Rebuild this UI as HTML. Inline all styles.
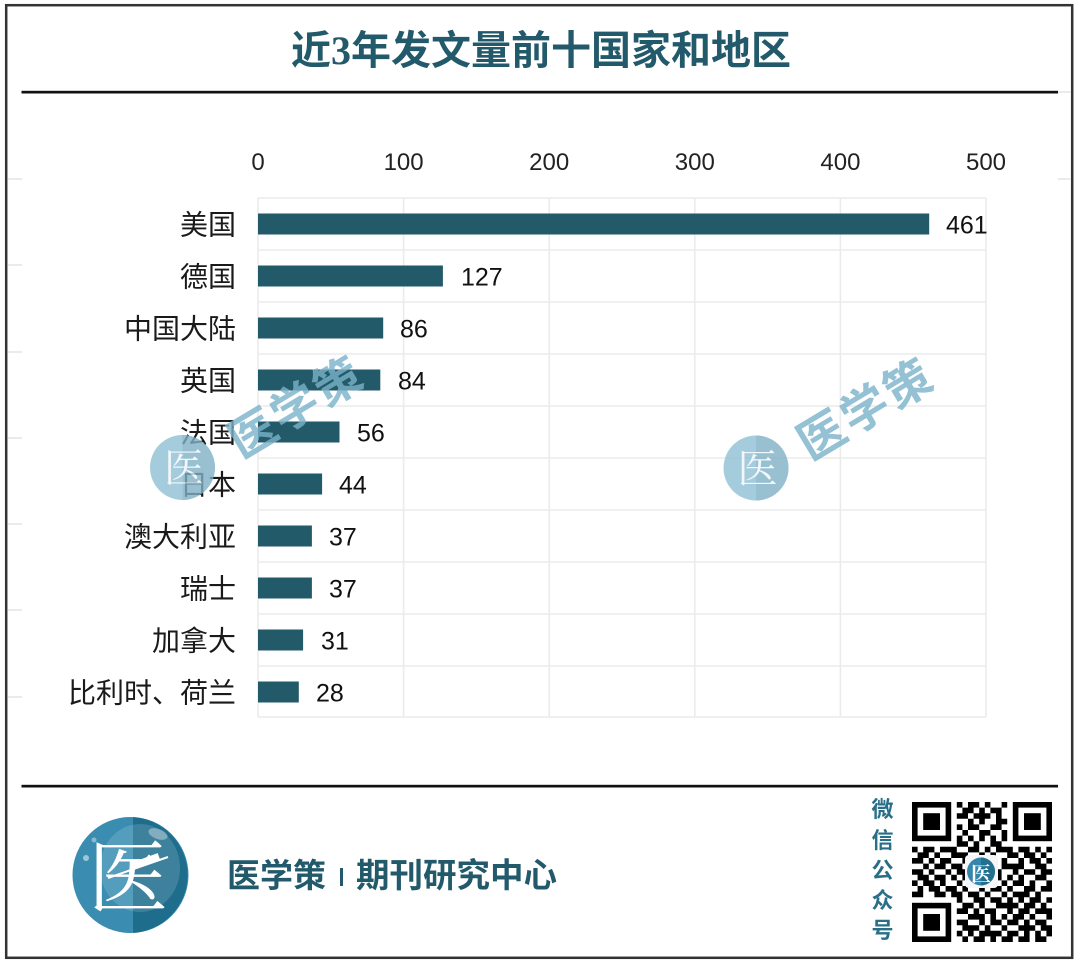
<!DOCTYPE html>
<html><head><meta charset="utf-8"><style>
html,body{margin:0;padding:0;background:#fff;}
svg{display:block;}
</style></head><body>
<svg width="1080" height="965" viewBox="0 0 1080 965" xmlns="http://www.w3.org/2000/svg">
<rect x="0" y="0" width="1080" height="965" fill="#fff"/>
<!-- outer border -->
<rect x="6.2" y="5.2" width="1066" height="952.6" fill="none" stroke="#333" stroke-width="2.5"/>
<!-- faint edge ticks -->
<g stroke="#e4e4e4" stroke-width="1.5">
<line x1="8" y1="179" x2="22" y2="179"/><line x1="8" y1="265" x2="22" y2="265"/>
<line x1="8" y1="352" x2="22" y2="352"/><line x1="8" y1="438" x2="22" y2="438"/>
<line x1="8" y1="524" x2="22" y2="524"/><line x1="8" y1="610" x2="22" y2="610"/>
<line x1="8" y1="697" x2="22" y2="697"/>
<line x1="1058" y1="92" x2="1071" y2="92"/><line x1="1058" y1="179" x2="1071" y2="179"/>
</g>
<!-- title -->
<text x="541" y="64" text-anchor="middle" font-family="'Liberation Sans','Noto Sans CJK SC',sans-serif" font-weight="bold" font-size="40" fill="#235a6b">近<tspan font-family="'Liberation Serif',serif">3</tspan>年发文量前十国家和地区</text>
<rect x="21.5" y="90.8" width="1036.5" height="2.7" fill="#111"/>

<!-- grid -->
<g stroke="#ebebeb" stroke-width="1.6">
<line x1="258" y1="198" x2="986" y2="198"/>
<line x1="258" y1="250" x2="986" y2="250"/>
<line x1="258" y1="302" x2="986" y2="302"/>
<line x1="258" y1="354" x2="986" y2="354"/>
<line x1="258" y1="406" x2="986" y2="406"/>
<line x1="258" y1="458" x2="986" y2="458"/>
<line x1="258" y1="510" x2="986" y2="510"/>
<line x1="258" y1="562" x2="986" y2="562"/>
<line x1="258" y1="614" x2="986" y2="614"/>
<line x1="258" y1="666" x2="986" y2="666"/>
<line x1="258" y1="717" x2="986" y2="717"/>
<line x1="258" y1="198" x2="258" y2="717"/>
<line x1="403.6" y1="198" x2="403.6" y2="717"/>
<line x1="549.2" y1="198" x2="549.2" y2="717"/>
<line x1="694.8" y1="198" x2="694.8" y2="717"/>
<line x1="840.4" y1="198" x2="840.4" y2="717"/>
<line x1="986" y1="198" x2="986" y2="717"/>
</g>

<!-- axis labels -->
<g font-family="'Liberation Sans',sans-serif" font-size="24" fill="#222" text-anchor="middle">
<text x="258" y="170">0</text>
<text x="403.6" y="170">100</text>
<text x="549.2" y="170">200</text>
<text x="694.8" y="170">300</text>
<text x="840.4" y="170">400</text>
<text x="986" y="170">500</text>
</g>

<!-- bars -->
<g fill="#235a69">
<rect x="258" y="213.5" width="671.2" height="21"/>
<rect x="258" y="265.5" width="184.9" height="21"/>
<rect x="258" y="317.5" width="125.2" height="21"/>
<rect x="258" y="369.5" width="122.3" height="21"/>
<rect x="258" y="421.5" width="81.5" height="21"/>
<rect x="258" y="473.5" width="64.1" height="21"/>
<rect x="258" y="525.5" width="53.9" height="21"/>
<rect x="258" y="577.5" width="53.9" height="21"/>
<rect x="258" y="629.5" width="45.1" height="21"/>
<rect x="258" y="681.5" width="40.8" height="21"/>
</g>

<!-- category labels -->
<g font-family="'Liberation Sans','Noto Sans CJK SC',sans-serif" font-size="28" fill="#1a1a1a" text-anchor="end">
<text x="236" y="234.5">美国</text>
<text x="236" y="286.5">德国</text>
<text x="236" y="338.5">中国大陆</text>
<text x="236" y="390.5">英国</text>
<text x="236" y="442.5">法国</text>
<text x="236" y="494.5">日本</text>
<text x="236" y="546.5">澳大利亚</text>
<text x="236" y="598.5">瑞士</text>
<text x="236" y="650.5">加拿大</text>
<text x="236" y="702.5">比利时、荷兰</text>
</g>

<!-- value labels -->
<g font-family="'Liberation Sans',sans-serif" font-size="25" fill="#111">
<text x="946" y="233.5">461</text>
<text x="461" y="285.5">127</text>
<text x="400" y="337.5">86</text>
<text x="398" y="389.5">84</text>
<text x="357" y="441.5">56</text>
<text x="339" y="493.5">44</text>
<text x="329" y="545.5">37</text>
<text x="329" y="597.5">37</text>
<text x="321" y="649.5">31</text>
<text x="316" y="701.5">28</text>
</g>

<!-- watermarks -->
<g opacity="0.8">
  <circle cx="182.5" cy="467.5" r="32.5" fill="#8fc0d4"/>
  <path d="M182.5 435 A32.5 32.5 0 0 1 182.5 500 Z" fill="#7fb1c6"/>
  <text x="184" y="482" text-anchor="middle" font-family="'Noto Serif CJK SC',serif" font-size="40" fill="#eef6fa">医</text>
  <g font-family="'Liberation Sans','Noto Sans CJK SC',sans-serif" font-weight="bold" font-size="47" fill="#7ab3ca" text-anchor="middle">
    <text x="252" y="450" transform="rotate(-31 252 432)">医</text>
    <text x="294" y="424" transform="rotate(-31 294 406)">学</text>
    <text x="337" y="399" transform="rotate(-31 337 381)">策</text>
  </g>
  <circle cx="756" cy="468" r="32.5" fill="#8fc0d4"/>
  <path d="M756 435.5 A32.5 32.5 0 0 1 756 500.5 Z" fill="#7fb1c6"/>
  <text x="757.5" y="482.5" text-anchor="middle" font-family="'Noto Serif CJK SC',serif" font-size="40" fill="#eef6fa">医</text>
  <g font-family="'Liberation Sans','Noto Sans CJK SC',sans-serif" font-weight="bold" font-size="47" fill="#7ab3ca" text-anchor="middle">
    <text x="821" y="452" transform="rotate(-31 821 434)">医</text>
    <text x="864" y="426" transform="rotate(-31 864 408)">学</text>
    <text x="907" y="401" transform="rotate(-31 907 383)">策</text>
  </g>
</g>

<!-- footer -->
<rect x="21.5" y="784.8" width="1036.5" height="2.7" fill="#111"/>
<!-- logo -->
<circle cx="130.5" cy="875" r="58" fill="#3a8db1"/>
<path d="M133 817.1 A58 58 0 0 1 133 932.9 Z" fill="#1f6d8c"/>
<ellipse cx="140" cy="868" rx="40" ry="44" fill="#ffffff" opacity="0.14"/>
<ellipse cx="158" cy="834" rx="10" ry="5" fill="#ffffff" opacity="0.35" transform="rotate(20 158 834)"/>
<circle cx="86" cy="858" r="3" fill="#ffffff" opacity="0.5"/>
<circle cx="94" cy="840" r="2.5" fill="#ffffff" opacity="0.4"/>
<text x="128" y="906" text-anchor="middle" font-family="'Noto Serif CJK SC',serif" font-size="80" fill="#ffffff">医</text>
<line x1="108" y1="878" x2="168" y2="857" stroke="#ffffff" stroke-width="2"/>
<rect x="132" y="858" width="28" height="7" fill="#ffffff" transform="rotate(-20 145 862)"/>

<text x="227" y="887" font-family="'Liberation Sans','Noto Sans CJK SC',sans-serif" font-weight="bold" font-size="33" fill="#235a6b">医学策</text>
<rect x="340" y="868" width="3" height="18" fill="#235a6b"/>
<text x="356" y="887" font-family="'Liberation Sans','Noto Sans CJK SC',sans-serif" font-weight="bold" font-size="33.5" fill="#235a6b">期刊研究中心</text>

<!-- 微信公众号 -->
<g font-family="'Liberation Sans','Noto Sans CJK SC',sans-serif" font-weight="bold" font-size="22" fill="#2a6f88" text-anchor="middle">
<text x="882.5" y="817">微</text>
<text x="882.5" y="848">信</text>
<text x="882.5" y="878">公</text>
<text x="882.5" y="908">众</text>
<text x="882.5" y="938">号</text>
</g>

<!-- QR code -->
<g transform="translate(912,802) scale(5.6)">
<rect x="0" y="0" width="7" height="7" fill="#000"/><rect x="1" y="1" width="5" height="5" fill="#fff"/><rect x="2" y="2" width="3" height="3" fill="#000"/>
<rect x="18" y="0" width="7" height="7" fill="#000"/><rect x="19" y="1" width="5" height="5" fill="#fff"/><rect x="20" y="2" width="3" height="3" fill="#000"/>
<rect x="0" y="18" width="7" height="7" fill="#000"/><rect x="1" y="19" width="5" height="5" fill="#fff"/><rect x="2" y="20" width="3" height="3" fill="#000"/>
<path fill="#000" d="M8 0h1v1h-1zM10 0h2v1h-2zM13 0h1v1h-1zM16 0h1v1h-1z
M9 1h2v1h-2zM12 1h1v1h-1zM14 1h2v1h-2z
M8 2h2v1h-2zM11 2h3v1h-3zM15 2h1v1h-1z
M10 3h1v1h-1zM12 3h1v1h-1zM15 3h2v1h-2z
M8 4h1v1h-1zM10 4h2v1h-2zM14 4h2v1h-2z
M9 5h1v1h-1zM12 5h2v1h-2zM16 5h1v1h-1z
M8 6h1v1h-1zM10 6h1v1h-1zM12 6h1v1h-1zM14 6h1v1h-1zM16 6h1v1h-1z
M8 7h2v1h-2zM11 7h1v1h-1zM14 7h2v1h-2z
M0 8h1v1h-1zM2 8h2v1h-2zM5 8h3v1h-3zM10 8h2v1h-2zM13 8h1v1h-1zM15 8h3v1h-3zM19 8h2v1h-2zM22 8h1v1h-1zM24 8h1v1h-1z
M1 9h2v1h-2zM4 9h1v1h-1zM7 9h3v1h-3zM12 9h1v1h-1zM14 9h1v1h-1zM17 9h2v1h-2zM20 9h2v1h-2zM23 9h1v1h-1z
M0 10h2v1h-2zM3 10h1v1h-1zM5 10h2v1h-2zM9 10h3v1h-3zM13 10h2v1h-2zM16 10h1v1h-1zM19 10h1v1h-1zM21 10h2v1h-2zM24 10h1v1h-1z
M2 11h1v1h-1zM4 11h2v1h-2zM7 11h2v1h-2zM11 11h3v1h-3zM16 11h4v1h-4zM22 11h2v1h-2z
M0 12h2v1h-2zM3 12h1v1h-1zM6 12h1v1h-1zM8 12h2v1h-2zM11 12h5v1h-5zM18 12h1v1h-1zM20 12h2v1h-2zM23 12h2v1h-2z
M1 13h2v1h-2zM4 13h2v1h-2zM7 13h1v1h-1zM9 13h5v1h-5zM15 13h1v1h-1zM17 13h1v1h-1zM19 13h1v1h-1zM22 13h2v1h-2z
M0 14h1v1h-1zM2 14h2v1h-2zM5 14h1v1h-1zM8 14h1v1h-1zM10 14h5v1h-5zM16 14h1v1h-1zM18 14h2v1h-2zM21 14h1v1h-1zM24 14h1v1h-1z
M1 15h1v1h-1zM3 15h2v1h-2zM6 15h2v1h-2zM9 15h1v1h-1zM12 15h1v1h-1zM14 15h2v1h-2zM17 15h1v1h-1zM20 15h2v1h-2zM23 15h2v1h-2z
M0 16h2v1h-2zM4 16h2v1h-2zM7 16h2v1h-2zM10 16h2v1h-2zM13 16h1v1h-1zM16 16h1v1h-1zM18 16h3v1h-3zM22 16h1v1h-1z
M8 17h1v1h-1zM11 17h2v1h-2zM14 17h2v1h-2zM17 17h1v1h-1zM19 17h1v1h-1zM21 17h2v1h-2zM24 17h1v1h-1z
M9 18h2v1h-2zM12 18h1v1h-1zM15 18h4v1h-4zM20 18h2v1h-2zM23 18h1v1h-1z
M8 19h2v1h-2zM11 19h1v1h-1zM13 19h2v1h-2zM17 19h1v1h-1zM19 19h2v1h-2zM22 19h3v1h-3z
M10 20h3v1h-3zM14 20h1v1h-1zM16 20h1v1h-1zM18 20h2v1h-2zM21 20h1v1h-1zM24 20h1v1h-1z
M8 21h2v1h-2zM12 21h1v1h-1zM14 21h2v1h-2zM17 21h2v1h-2zM20 21h1v1h-1zM22 21h2v1h-2z
M9 22h3v1h-3zM13 22h1v1h-1zM16 22h1v1h-1zM19 22h3v1h-3zM23 22h2v1h-2z
M8 23h1v1h-1zM10 23h1v1h-1zM12 23h4v1h-4zM17 23h2v1h-2zM20 23h1v1h-1zM22 23h1v1h-1zM24 23h1v1h-1z
M9 24h1v1h-1zM11 24h2v1h-2zM14 24h1v1h-1zM16 24h2v1h-2zM19 24h2v1h-2zM22 24h2v1h-2z"/>
</g>
<rect x="965" y="855" width="33" height="33" rx="4" fill="#f4f6f7"/>
<circle cx="981" cy="871.5" r="14" fill="#3487ab"/>
<path d="M981 857.5 A14 14 0 0 1 981 885.5 Z" fill="#236f8e"/>
<text x="981" y="881" text-anchor="middle" font-family="'Noto Serif CJK SC',serif" font-weight="bold" font-size="20" fill="#fff">医</text>
</svg>
</body></html>
